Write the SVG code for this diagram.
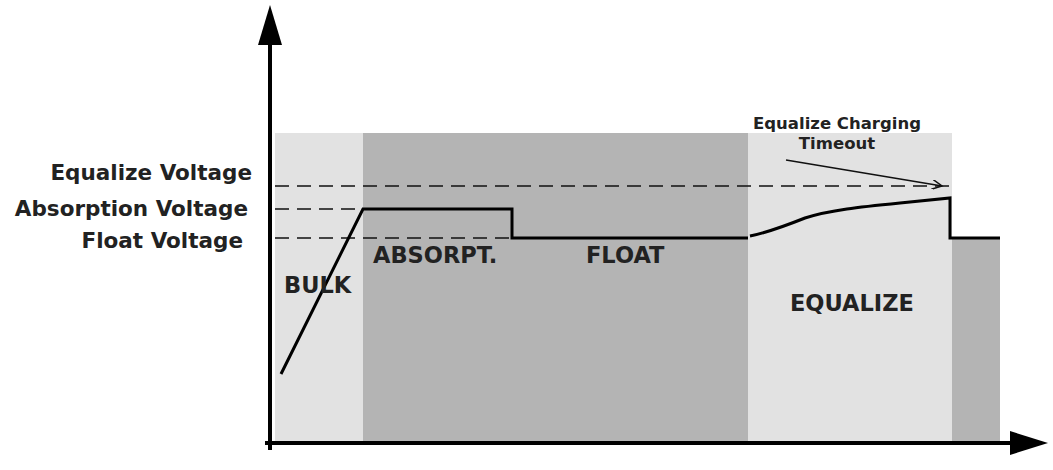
<svg xmlns="http://www.w3.org/2000/svg" width="1053" height="470" viewBox="0 0 1053 470">
<style>
text{font-family:"DejaVu Sans",sans-serif;font-weight:bold;fill:#222}
.lbl{font-size:21.5px}
.reg{font-size:22.5px}
.dash{stroke:#111;stroke-width:1.3;stroke-dasharray:14 8;fill:none}
.curve{stroke:#000;stroke-width:3;fill:none}
</style>
<defs>
<marker id="ah" markerWidth="12" markerHeight="10" refX="10" refY="5" orient="auto" markerUnits="userSpaceOnUse"><path d="M0,0 L10,5 L0,10" fill="none" stroke="#111" stroke-width="1.5"/></marker>
</defs>
<rect width="1053" height="470" fill="#fff"/>
<g id="regions">
<rect x="275" y="133" width="88" height="310" fill="#e2e2e2"/>
<rect x="363" y="133" width="385" height="310" fill="#b4b4b4"/>
<rect x="748" y="133" width="204" height="310" fill="#e2e2e2"/>
<rect x="952" y="238" width="48" height="205" fill="#b4b4b4"/>
</g>
<g id="connectors">
<line class="dash" x1="275" y1="186" x2="952" y2="186"/>
<line class="dash" x1="275" y1="209" x2="363" y2="209"/>
<line class="dash" x1="275" y1="238" x2="748" y2="238"/>
<path class="curve" d="M281,374 L363,209 L512,209 L512,238 L748,238"/>
<path class="curve" d="M750,236 C770,232 790,224 805,218 C830,210 860,207 900,203 L950,198 L950,238 L1000,238" stroke-width="2.5"/>
<line x1="786" y1="160" x2="942" y2="186" stroke="#111" stroke-width="1.5" marker-end="url(#ah)"/>
<line x1="270" y1="450" x2="270" y2="30" stroke="#000" stroke-width="4"/>
<polygon points="270,5 258,45 282,45" fill="#000"/>
<line x1="265" y1="443" x2="1020" y2="443" stroke="#000" stroke-width="4"/>
<polygon points="1048,443 1010,431 1010,455" fill="#000"/>
</g>
<g id="labels">
<text class="lbl" x="252" y="180" text-anchor="end">Equalize Voltage</text>
<text class="lbl" x="248" y="216" text-anchor="end">Absorption Voltage</text>
<text class="lbl" x="243" y="248" text-anchor="end">Float Voltage</text>
<text class="reg" x="284" y="293">BULK</text>
<text class="reg" x="373" y="263">ABSORPT.</text>
<text class="reg" x="586" y="263">FLOAT</text>
<text class="reg" x="790" y="311">EQUALIZE</text>
<text x="837" y="129" font-size="16.5" text-anchor="middle">Equalize Charging</text>
<text x="837" y="149" font-size="16.5" text-anchor="middle">Timeout</text>
</g>
</svg>
